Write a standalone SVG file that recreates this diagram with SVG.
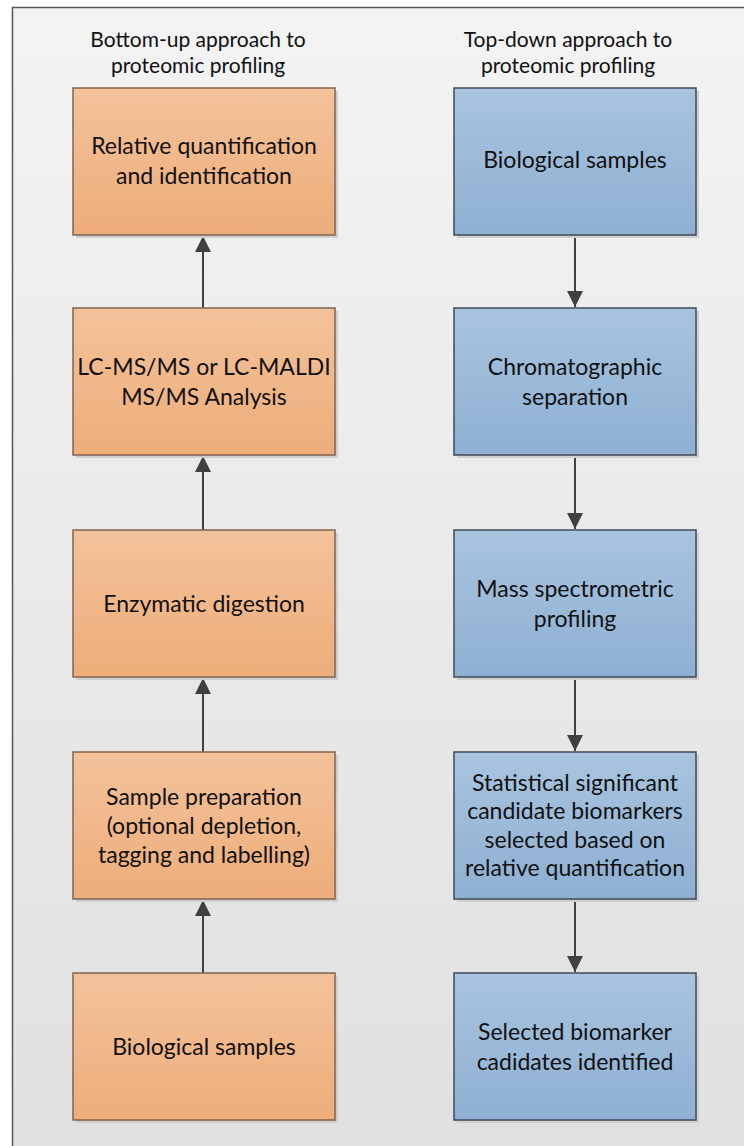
<svg xmlns="http://www.w3.org/2000/svg" width="744" height="1146" viewBox="0 0 744 1146">
  <defs>
    <linearGradient id="bg" x1="0" y1="0" x2="0" y2="1">
      <stop offset="0" stop-color="#F3F3F3"/>
      <stop offset="1" stop-color="#E0E0E0"/>
    </linearGradient>
    <linearGradient id="orange" x1="0" y1="0" x2="0" y2="1">
      <stop offset="0" stop-color="#F3C29B"/>
      <stop offset="1" stop-color="#EEAD79"/>
    </linearGradient>
    <linearGradient id="blue" x1="0" y1="0" x2="0" y2="1">
      <stop offset="0" stop-color="#A8C4DF"/>
      <stop offset="1" stop-color="#8FB0D3"/>
    </linearGradient>
    <marker id="arrow" viewBox="0 0 16 16" refX="16" refY="8" markerWidth="16" markerHeight="16" markerUnits="userSpaceOnUse" orient="auto">
      <path d="M0,0 L16,8 L0,16 Z" fill="#404040"/>
    </marker>
  </defs>
  <style>
    .frame { fill: url(#bg); stroke: #555555; stroke-width: 1.5; }
    .shadow { fill: #CFCFCF; }
    .bu { fill: url(#orange); stroke: #7F6552; stroke-width: 1.5; }
    .td { fill: url(#blue); stroke: #3F4A59; stroke-width: 1.5; }
    .title { font-family: Lato, "Open Sans", sans-serif; font-size: 21px; fill: #111111; text-anchor: middle; }
    .label { font-family: Lato, "Open Sans", sans-serif; font-size: 23px; fill: #111111; text-anchor: middle; }
    .conn { stroke: #404040; stroke-width: 2; fill: none; marker-end: url(#arrow); }
  </style>

  <!-- page frame -->
  <rect class="frame" x="12.5" y="7.5" width="740" height="1150"/>

  <!-- column headings -->
  <text class="title" x="198" y="47">Bottom-up approach to</text>
  <text class="title" x="198" y="73">proteomic profiling</text>
  <text class="title" x="568" y="47">Top-down approach to</text>
  <text class="title" x="568" y="73">proteomic profiling</text>

  <!-- connectors -->
  <g id="connectors">
    <path class="conn" d="M203,973 V900"/>
    <path class="conn" d="M203,752 V678"/>
    <path class="conn" d="M203,530 V456"/>
    <path class="conn" d="M203,308 V236"/>
    <path class="conn" d="M575,235 V307"/>
    <path class="conn" d="M575,455 V529"/>
    <path class="conn" d="M575,677 V751"/>
    <path class="conn" d="M575,899 V972"/>
  </g>

  <!-- bottom-up column -->
  <g id="bu-quant">
    <rect class="shadow" x="76" y="91" width="262" height="147"/>
    <rect class="bu" x="73" y="88" width="262" height="147"/>
    <text class="label" x="204" y="154">Relative quantification</text>
    <text class="label" x="204" y="184">and identification</text>
  </g>
  <g id="bu-ms">
    <rect class="shadow" x="76" y="311" width="262" height="147"/>
    <rect class="bu" x="73" y="308" width="262" height="147"/>
    <text class="label" x="204" y="375">LC-MS/MS or LC-MALDI</text>
    <text class="label" x="204" y="405">MS/MS Analysis</text>
  </g>
  <g id="bu-digest">
    <rect class="shadow" x="76" y="533" width="262" height="147"/>
    <rect class="bu" x="73" y="530" width="262" height="147"/>
    <text class="label" x="204" y="612">Enzymatic digestion</text>
  </g>
  <g id="bu-prep">
    <rect class="shadow" x="76" y="755" width="262" height="147"/>
    <rect class="bu" x="73" y="752" width="262" height="147"/>
    <text class="label" x="204" y="805">Sample preparation</text>
    <text class="label" x="204" y="834">(optional depletion,</text>
    <text class="label" x="204" y="863">tagging and labelling)</text>
  </g>
  <g id="bu-samples">
    <rect class="shadow" x="76" y="976" width="262" height="147"/>
    <rect class="bu" x="73" y="973" width="262" height="147"/>
    <text class="label" x="204" y="1055">Biological samples</text>
  </g>

  <!-- top-down column -->
  <g id="td-samples">
    <rect class="shadow" x="457" y="91" width="242" height="147"/>
    <rect class="td" x="454" y="88" width="242" height="147"/>
    <text class="label" x="575" y="168">Biological samples</text>
  </g>
  <g id="td-chrom">
    <rect class="shadow" x="457" y="311" width="242" height="147"/>
    <rect class="td" x="454" y="308" width="242" height="147"/>
    <text class="label" x="575" y="375">Chromatographic</text>
    <text class="label" x="575" y="405">separation</text>
  </g>
  <g id="td-profiling">
    <rect class="shadow" x="457" y="533" width="242" height="147"/>
    <rect class="td" x="454" y="530" width="242" height="147"/>
    <text class="label" x="575" y="597">Mass spectrometric</text>
    <text class="label" x="575" y="627">profiling</text>
  </g>
  <g id="td-stats">
    <rect class="shadow" x="457" y="755" width="242" height="147"/>
    <rect class="td" x="454" y="752" width="242" height="147"/>
    <text class="label" x="575" y="791">Statistical significant</text>
    <text class="label" x="575" y="819">candidate biomarkers</text>
    <text class="label" x="575" y="848">selected based on</text>
    <text class="label" x="575" y="876">relative quantification</text>
  </g>
  <g id="td-identified">
    <rect class="shadow" x="457" y="976" width="242" height="147"/>
    <rect class="td" x="454" y="973" width="242" height="147"/>
    <text class="label" x="575" y="1040">Selected biomarker</text>
    <text class="label" x="575" y="1070">cadidates identified</text>
  </g>
</svg>
